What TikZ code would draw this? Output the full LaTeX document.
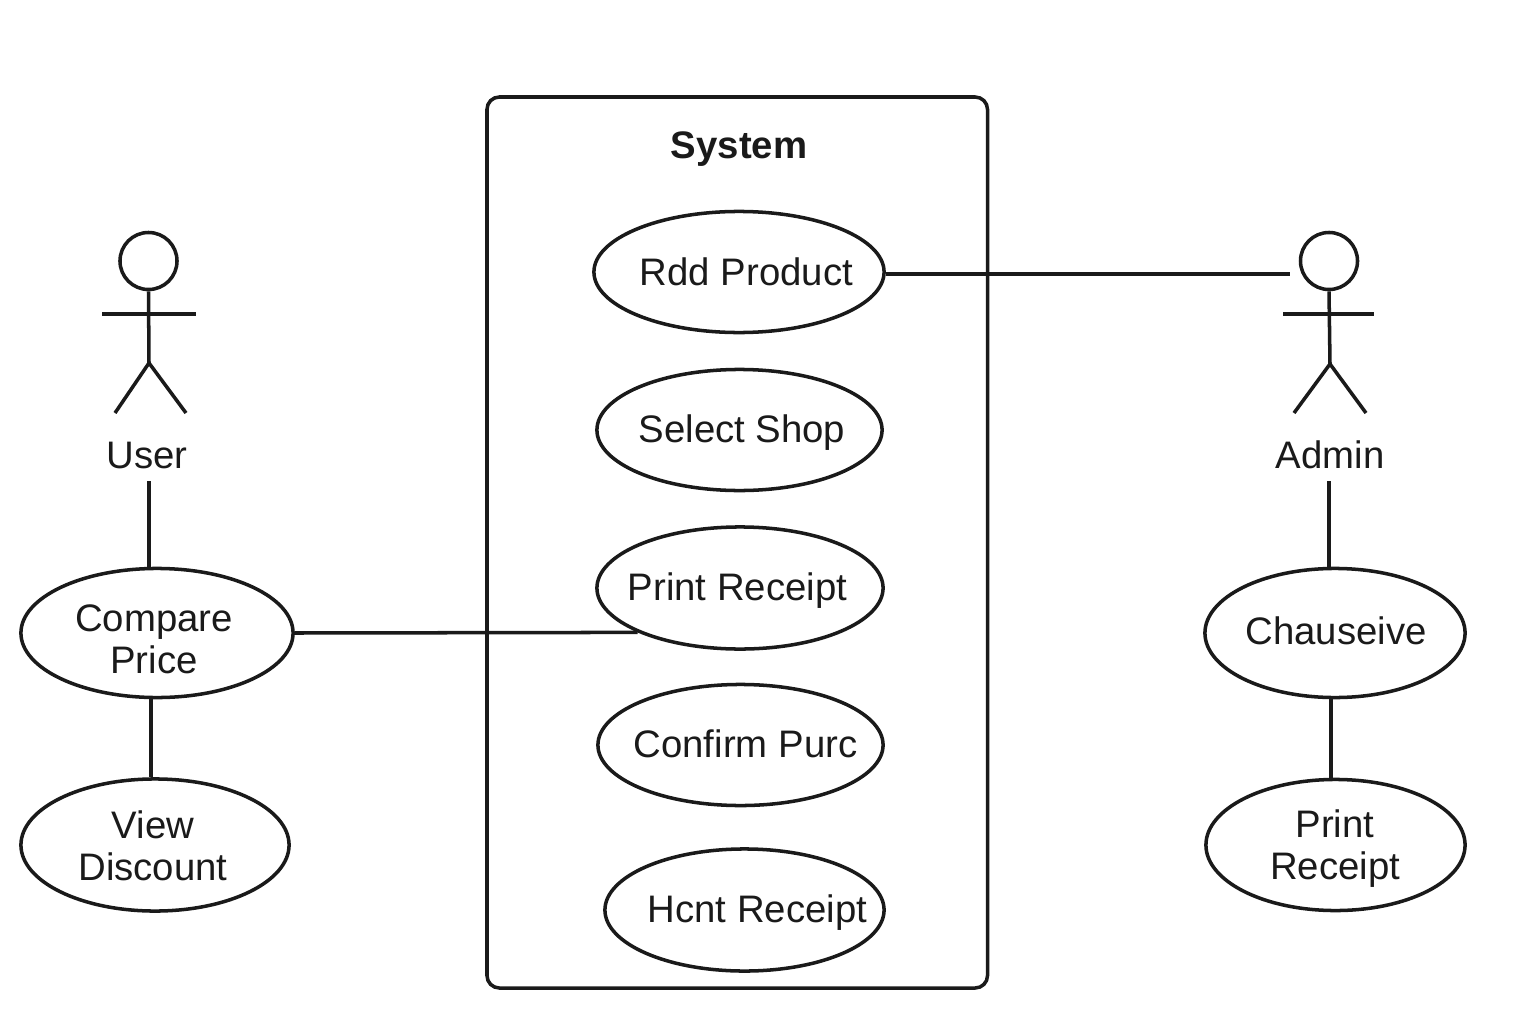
\documentclass[tikz,border=0pt]{standalone}
\usepackage{fontspec}
\setmainfont{Liberation Sans}
\usetikzlibrary{shapes.geometric, positioning}

\tikzset{
    usecase/.style={draw=inkline, ellipse, line width=1pt, inner sep=0pt},
    caption/.style={font=\fontsize{10.9}{11.9}\selectfont, text=inkline, align=center, inner sep=0pt},
    link/.style={draw=inkline, line width=1pt},
}
\definecolor{inkline}{HTML}{1A1A1A}

\begin{document}
\begin{tikzpicture}[x=0.01cm, y=-0.01cm]
    \useasboundingbox (0, 0) rectangle (1536, 1024);

    \draw [link, rounded corners=3.5pt] (487, 97) rectangle (987.5, 988);
    \node [caption, font=\fontsize{10.9}{11.9}\selectfont\bfseries] (systemName) at (739, 149) {System};

    \node [usecase, minimum width=2.90cm, minimum height=1.21cm] (addProduct) at (739, 272) {};
    \node [usecase, minimum width=2.85cm, minimum height=1.21cm] (selectShop) at (739.5, 430) {};
    \node [usecase, minimum width=2.86cm, minimum height=1.22cm] (printReceipt) at (740, 588) {};
    \node [usecase, minimum width=2.85cm, minimum height=1.21cm] (confirmPurc) at (740.5, 745) {};
    \node [usecase, minimum width=2.79cm, minimum height=1.22cm] (hcntReceipt) at (744.5, 910) {};
    \node [caption] (addProductText) at (746.5, 272) {Rdd Product};
    \node [caption] (selectShopText) at (742, 433) {Select Shop};
    \node [caption] (printReceiptText) at (737.5, 591) {Print Receipt};
    \node [caption] (confirmPurcText) at (745.5, 744) {Confirm Purc};
    \node [caption] (hcntReceiptText) at (757.5, 913) {Hcnt Receipt};

    \node [usecase, minimum width=2.72cm, minimum height=1.29cm] (comparePrice) at (157, 633) {};
    \node [usecase, minimum width=2.68cm, minimum height=1.32cm] (viewDiscount) at (155, 845) {};
    \node [caption] (comparePriceText) at (154, 639) {Compare\\Price};
    \node [caption] (viewDiscountText) at (153, 846) {View\\Discount};

    \node [usecase, minimum width=2.60cm, minimum height=1.29cm] (chauseive) at (1335, 633) {};
    \node [usecase, minimum width=2.59cm, minimum height=1.31cm] (printAdmin) at (1335.5, 845) {};
    \node [caption] (chauseiveText) at (1336, 631) {Chauseive};
    \node [caption] (printAdminText) at (1335, 849) {Print\\Receipt};

    \node [draw=inkline, circle, line width=1pt, minimum size=0.57cm, inner sep=0pt] (userHead) at (148.5, 261) {};
    \draw [link] (userHead.south) -- (149, 363) coordinate (userHip);
    \draw [link] (102, 314) -- (196, 314);
    \draw [link] (115, 413) -- (userHip) -- (186, 413);
    \node [caption] (userName) at (147, 455) {User};

    \node [draw=inkline, circle, line width=1pt, minimum size=0.57cm, inner sep=0pt] (adminHead) at (1329, 261) {};
    \draw [link] (adminHead.south) -- (1330, 364) coordinate (adminHip);
    \draw [link] (1283, 314) -- (1374, 314);
    \draw [link] (1294, 413) -- (adminHip) -- (1366, 413);
    \node [caption] (adminName) at (1330, 455) {Admin};

    \coordinate (adminHand) at (1290, 274);
    \coordinate (userFoot) at (149, 481);
    \coordinate (adminFoot) at (1329, 481);

    \draw [link] (addProduct.east |- adminHand) -- (adminHand);
    \draw [link] (comparePrice.east) -- (printReceipt.south west);
    \draw [link] (userFoot) -- (userFoot |- comparePrice.north);
    \draw [link] (adminFoot) -- (adminFoot |- chauseive.north);
    \draw [link] (151, 698) coordinate (compareFoot) -- (compareFoot |- viewDiscount.north);
    \draw [link] (1331, 698) coordinate (chauseiveFoot) -- (chauseiveFoot |- printAdmin.north);
\end{tikzpicture}
\end{document}
